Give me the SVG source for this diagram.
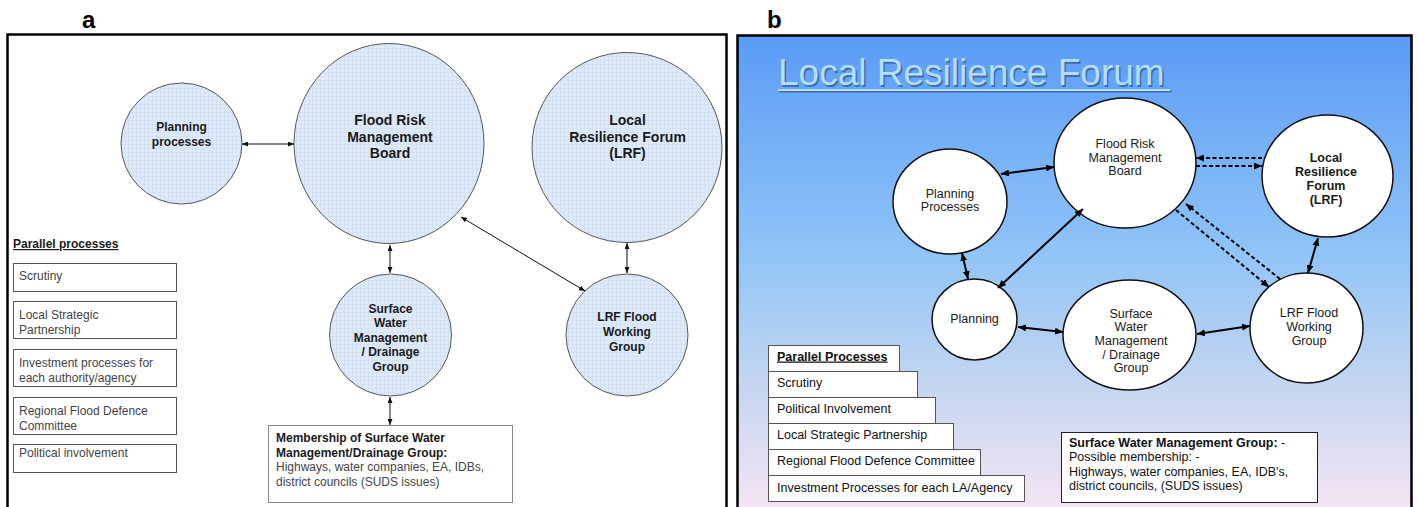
<svg xmlns="http://www.w3.org/2000/svg" width="1418" height="507" viewBox="0 0 1418 507">
<defs>
<pattern id="grid" width="4" height="4" patternUnits="userSpaceOnUse">
<rect width="4" height="4" fill="#dfeaf8"/>
<path d="M0,0.25 H4 M0.25,0 V4" stroke="#c6d9ef" stroke-width="0.5"/>
</pattern>
<linearGradient id="bg" x1="0" y1="35" x2="0" y2="507" gradientUnits="userSpaceOnUse">
<stop offset="0" stop-color="#5b9bf6"/>
<stop offset="0.45" stop-color="#8ec3f7"/>
<stop offset="0.75" stop-color="#c6d6f0"/>
<stop offset="1" stop-color="#f4e4f4"/>
</linearGradient>
<marker id="ha" viewBox="0 0 6 5" refX="6" refY="2.5" markerWidth="6" markerHeight="5" markerUnits="userSpaceOnUse" orient="auto-start-reverse">
<path d="M0,0 L6,2.5 L0,5 z" fill="#111"/>
</marker>
<marker id="hb" viewBox="0 0 8 7" refX="8" refY="3.5" markerWidth="8" markerHeight="7" markerUnits="userSpaceOnUse" orient="auto-start-reverse">
<path d="M0,0 L8,3.5 L0,7 z" fill="#000"/>
</marker>
</defs>
<style>
.pa{fill:url(#grid);stroke:#555;stroke-width:1}
.pb{fill:#fff;stroke:#111;stroke-width:1.5}
.ta{font-family:"Liberation Sans",Arial,sans-serif;font-weight:bold;fill:#1a1a1a;text-anchor:middle}
.tb{font-family:"Liberation Sans",Arial,sans-serif;font-size:12.5px;fill:#1a1a1a;text-anchor:middle}
.bx{fill:#fff;stroke:#555;stroke-width:1}
.bt{font-family:"Liberation Sans",Arial,sans-serif;font-size:12px;fill:#444}
.bt2{font-family:"Liberation Sans",Arial,sans-serif;font-size:12.5px;fill:#111}
.ca{stroke:#111;stroke-width:1;fill:none;marker-start:url(#ha);marker-end:url(#ha)}
.cb{stroke:#000;stroke-width:2;fill:none;marker-start:url(#hb);marker-end:url(#hb)}
.cd{stroke:#000;stroke-width:2;fill:none;stroke-dasharray:4 2.5;marker-end:url(#hb)}
.lab{font-family:"Liberation Sans",Arial,sans-serif;font-weight:bold;font-size:24px;fill:#000}
</style>

<text class="lab" x="82" y="28">a</text>
<text class="lab" x="767" y="28">b</text>

<!-- Panel a -->
<rect x="7.5" y="34.5" width="719" height="480" fill="#fff" stroke="#000" stroke-width="2.5"/>

<g id="a-planning">
<circle class="pa" cx="181.5" cy="143.5" r="60.5"/>
<text class="ta" font-size="12" x="181.5"><tspan x="181.5" y="131">Planning</tspan><tspan x="181.5" y="145.5">processes</tspan></text>
</g>
<g id="a-frmb">
<ellipse class="pa" cx="389" cy="143.5" rx="95" ry="100"/>
<text class="ta" font-size="14"><tspan x="390" y="125">Flood Risk</tspan><tspan x="390" y="141.5">Management</tspan><tspan x="390" y="158">Board</tspan></text>
</g>
<g id="a-lrf">
<circle class="pa" cx="627" cy="147.5" r="95"/>
<text class="ta" font-size="14"><tspan x="627.5" y="125">Local</tspan><tspan x="627.5" y="141.5">Resilience Forum</tspan><tspan x="627.5" y="158">(LRF)</tspan></text>
</g>
<g id="a-swmdg">
<circle class="pa" cx="390.5" cy="335" r="61"/>
<text class="ta" font-size="12"><tspan x="390.5" y="312.5">Surface</tspan><tspan x="390.5" y="327">Water</tspan><tspan x="390.5" y="341.5">Management</tspan><tspan x="390.5" y="356">/ Drainage</tspan><tspan x="390.5" y="370.5">Group</tspan></text>
</g>
<g id="a-lrffwg">
<circle class="pa" cx="627" cy="335" r="61"/>
<text class="ta" font-size="12"><tspan x="627" y="320.5">LRF Flood</tspan><tspan x="627" y="335.5">Working</tspan><tspan x="627" y="350.5">Group</tspan></text>
</g>
<g id="a-membership">
<rect x="268.5" y="425.5" width="244" height="77" fill="#fff" stroke="#888" stroke-width="1"/>
<text class="bt" x="276"><tspan x="276" y="441.5" font-weight="bold" fill="#1a1a1a">Membership of Surface Water</tspan><tspan x="276" y="456.5" font-weight="bold" fill="#1a1a1a">Management/Drainage Group:</tspan><tspan x="276" y="471">Highways, water companies, EA, IDBs,</tspan><tspan x="276" y="485.5">district councils (SUDS issues)</tspan></text>
</g>
<g id="a-parallel">
<text x="13" y="248" font-family="Liberation Sans, Arial, sans-serif" font-size="12" font-weight="bold" fill="#1a1a1a" text-decoration="underline">Parallel processes</text>
<rect class="bx" x="13.5" y="263.5" width="163" height="28"/>
<text class="bt" x="19" y="279.5">Scrutiny</text>
<rect class="bx" x="13.5" y="301.5" width="163" height="37"/>
<text class="bt"><tspan x="19" y="318.5">Local Strategic</tspan><tspan x="19" y="333.5">Partnership</tspan></text>
<rect class="bx" x="13.5" y="349.5" width="163" height="37"/>
<text class="bt"><tspan x="19" y="366.5">Investment processes for</tspan><tspan x="19" y="381.5">each authority/agency</tspan></text>
<rect class="bx" x="13.5" y="397.5" width="163" height="37"/>
<text class="bt"><tspan x="19" y="414.5">Regional Flood Defence</tspan><tspan x="19" y="429.5">Committee</tspan></text>
<rect class="bx" x="13.5" y="444.5" width="163" height="28"/>
<text class="bt" x="19" y="457">Political involvement</text>
</g>

<g id="a-connectors">
<line class="ca" x1="242" y1="144" x2="294" y2="144"/>
<line class="ca" x1="390" y1="245" x2="390" y2="273"/>
<line class="ca" x1="390" y1="397" x2="390" y2="425"/>
<line class="ca" x1="627" y1="243" x2="627" y2="273"/>
<line class="ca" x1="461" y1="217" x2="585" y2="291"/>
</g>

<!-- Panel b -->
<rect x="737.5" y="35.5" width="674" height="480" fill="url(#bg)" stroke="#000" stroke-width="2.5"/>
<g id="b-title" font-family="Liberation Sans, Arial, sans-serif" font-size="37">
<text x="779.5" y="86.5" fill="#3d6fae">Local Resilience Forum</text>
<line x1="779.5" y1="91.5" x2="1171.5" y2="91.5" stroke="#3d6fae" stroke-width="2"/>
<text x="778" y="85" fill="#b4def9">Local Resilience Forum</text>
<line x1="778" y1="90" x2="1170" y2="90" stroke="#b4def9" stroke-width="2"/>
</g>

<g id="b-frmb">
<ellipse class="pb" cx="1125" cy="163" rx="71" ry="65"/>
<text class="tb"><tspan x="1125" y="147.5">Flood Risk</tspan><tspan x="1125" y="161.5">Management</tspan><tspan x="1125" y="175">Board</tspan></text>
</g>
<g id="b-lrf">
<ellipse class="pb" cx="1327.5" cy="176" rx="65.5" ry="61"/>
<text class="tb" font-weight="bold"><tspan x="1326" y="161.5">Local</tspan><tspan x="1326" y="175.5">Resilience</tspan><tspan x="1326" y="189.5">Forum</tspan><tspan x="1326" y="203.5">(LRF)</tspan></text>
</g>
<g id="b-planproc">
<ellipse class="pb" cx="950" cy="201.5" rx="57" ry="52.5"/>
<text class="tb"><tspan x="950" y="197.5">Planning</tspan><tspan x="950" y="210.5">Processes</tspan></text>
</g>
<g id="b-planning">
<ellipse class="pb" cx="974.5" cy="319.5" rx="42.5" ry="40.5"/>
<text class="tb" x="974.5" y="322.5">Planning</text>
</g>
<g id="b-swmdg">
<ellipse class="pb" cx="1129.5" cy="335" rx="66.5" ry="55"/>
<text class="tb"><tspan x="1131" y="317.5">Surface</tspan><tspan x="1131" y="331.2">Water</tspan><tspan x="1131" y="344.9">Management</tspan><tspan x="1131" y="358.6">/ Drainage</tspan><tspan x="1131" y="372.3">Group</tspan></text>
</g>
<g id="b-lrffwg">
<ellipse class="pb" cx="1306.5" cy="328" rx="56.5" ry="55"/>
<text class="tb"><tspan x="1309" y="316.5">LRF Flood</tspan><tspan x="1309" y="330.5">Working</tspan><tspan x="1309" y="344.5">Group</tspan></text>
</g>

<g id="b-parallel">
<rect class="bx" x="768.5" y="345.5" width="131" height="26" stroke="#222"/>
<text x="777" y="360.5" font-family="Liberation Sans, Arial, sans-serif" font-size="12.5" font-weight="bold" fill="#111" text-decoration="underline">Parallel Processes</text>
<rect class="bx" x="768.5" y="371.5" width="149" height="26" stroke="#222"/>
<text class="bt2" x="777" y="386.5">Scrutiny</text>
<rect class="bx" x="768.5" y="397.5" width="167" height="26" stroke="#222"/>
<text class="bt2" x="777" y="412.5">Political Involvement</text>
<rect class="bx" x="768.5" y="423.5" width="185" height="26" stroke="#222"/>
<text class="bt2" x="777" y="439">Local Strategic Partnership</text>
<rect class="bx" x="768.5" y="449.5" width="212" height="26" stroke="#222"/>
<text class="bt2" x="777" y="465">Regional Flood Defence Committee</text>
<rect class="bx" x="768.5" y="475.5" width="256" height="26" stroke="#222"/>
<text class="bt2" x="777" y="491.5">Investment Processes for each LA/Agency</text>
</g>

<g id="b-membership">
<rect x="1061.5" y="432.5" width="256" height="70" fill="#fff" stroke="#222" stroke-width="1"/>
<text class="bt2"><tspan x="1069" y="446.5"><tspan font-weight="bold">Surface Water Management Group:</tspan> -</tspan><tspan x="1069" y="461">Possible membership: -</tspan><tspan x="1069" y="475.5">Highways, water companies, EA, IDB's,</tspan><tspan x="1069" y="490">district councils, (SUDS issues)</tspan></text>
</g>

<g id="b-connectors">
<line class="cb" x1="1001" y1="174" x2="1054" y2="167"/>
<line class="cb" x1="1083" y1="209" x2="998" y2="288"/>
<line class="cb" x1="962" y1="253" x2="968" y2="279"/>
<line class="cb" x1="1018" y1="327" x2="1063" y2="332"/>
<line class="cb" x1="1197" y1="334" x2="1250" y2="326"/>
<line class="cb" x1="1318" y1="238" x2="1308" y2="273"/>
<line class="cd" x1="1262" y1="158" x2="1196" y2="158"/>
<line class="cd" x1="1196" y1="166" x2="1262" y2="166"/>
<line class="cd" x1="1280" y1="279" x2="1186" y2="204"/>
<line class="cd" x1="1176" y1="210" x2="1269" y2="287"/>
</g>
</svg>
